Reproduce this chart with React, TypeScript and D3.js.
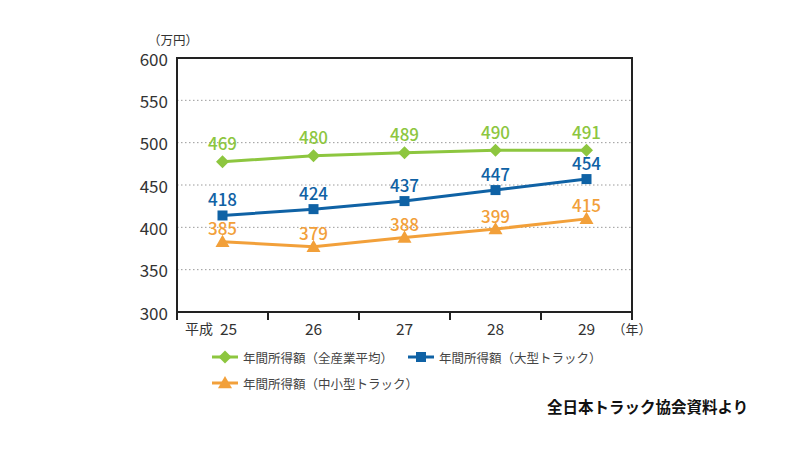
import React from "react";
import * as d3 from "d3";

const years = ["25", "26", "27", "28", "29"];
const yTicks = [300, 350, 400, 450, 500, 550, 600];

// label values as printed
const allIndustryLabels = [469, 480, 489, 490, 491];
const largeTruckLabels = [418, 424, 437, 447, 454];
const smallTruckLabels = [385, 379, 388, 399, 415];

// marker positions as drawn in the source chart (value units)
const allIndustry = [477.5, 484.5, 488, 491, 491];
const largeTruck = [414, 421.5, 431, 444, 457];
const smallTruck = [383, 377, 388, 398, 410];

const seriesNames = [
  "年間所得額（全産業平均）",
  "年間所得額（大型トラック）",
  "年間所得額（中小型トラック）",
];

const GREEN = "#8DC63F";
const BLUE = "#0F62A5";
const ORANGE = "#F2A03A";
const FONT = "'Noto Sans CJK JP', 'Noto Sans', sans-serif";

const W = 800;
const H = 450;
const left = 177;
const right = 632;
const top = 58;
const bottom = 312;

function Marker({ kind, x, y, color }: { kind: string; x: number; y: number; color: string }) {
  if (kind === "diamond") {
    const s = 6.5;
    return <path d={`M${x},${y - s}L${x + s},${y}L${x},${y + s}L${x - s},${y}Z`} fill={color} />;
  }
  if (kind === "square") {
    const s = 5;
    return <rect x={x - s} y={y - s} width={2 * s} height={2 * s} fill={color} />;
  }
  const s = 7;
  return <path d={`M${x},${y - s}L${x + s},${y + s * 0.75}L${x - s},${y + s * 0.75}Z`} fill={color} />;
}

export default function App() {
  const x = d3.scaleBand<string>().domain(years).range([left, right]);
  const y = d3.scaleLinear().domain([300, 600]).range([bottom, top]);
  const cx = (d: string) => (x(d) as number) + x.bandwidth() / 2;
  const line = d3
    .line<number>()
    .x((_, i) => cx(years[i]))
    .y((v) => y(v));

  const series = [
    { name: seriesNames[0], vals: allIndustry, labels: allIndustryLabels, color: GREEN, kind: "diamond", off: -19 },
    { name: seriesNames[1], vals: largeTruck, labels: largeTruckLabels, color: BLUE, kind: "square", off: -17 },
    { name: seriesNames[2], vals: smallTruck, labels: smallTruckLabels, color: ORANGE, kind: "triangle", off: -14 },
  ];

  const boundaries = years.map((d) => x(d) as number).concat([right]);

  return (
    <svg
      width={W}
      height={H}
      style={{ position: "absolute", left: 0, top: 0, background: "#fff" }}
      fontFamily={FONT}
    >
      <rect width={W} height={H} fill="#fff" />
      {/* grid */}
      {yTicks
        .filter((t) => t > 300 && t < 600)
        .map((t) => (
          <line
            key={t}
            x1={left}
            x2={right}
            y1={y(t)}
            y2={y(t)}
            stroke="#9a9a9a"
            strokeWidth={1}
            strokeDasharray="1.5,2.5"
          />
        ))}
      {/* frame */}
      <rect x={left} y={top} width={right - left} height={bottom - top} fill="none" stroke="#222" strokeWidth={2} />
      {boundaries.map((b, i) => (
        <line key={i} x1={b} x2={b} y1={bottom} y2={bottom + 8} stroke="#222" strokeWidth={2} />
      ))}
      {/* y labels */}
      {yTicks.map((t) => (
        <text key={t} x={168} y={y(t)} textAnchor="end" dominantBaseline="central" fontSize={17} fill="#333">
          {t}
        </text>
      ))}
      <text x={173} y={39} textAnchor="middle" dominantBaseline="central" fontSize={12.5} fill="#333">
        （万円）
      </text>
      {/* x labels */}
      {years.map((d) => (
        <text key={d} x={cx(d) + (d === "25" ? 6 : 0)} y={328} textAnchor="middle" dominantBaseline="central" fontSize={15.5} fill="#333">
          {d}
        </text>
      ))}
      <text x={199} y={328} textAnchor="middle" dominantBaseline="central" fontSize={14} fill="#333">
        平成
      </text>
      <text x={632} y={328} textAnchor="middle" dominantBaseline="central" fontSize={13} fill="#333">
        （年）
      </text>
      {/* series */}
      {series.map((s) => (
        <g key={s.name}>
          <path d={line(s.vals) || ""} fill="none" stroke={s.color} strokeWidth={3} />
          {s.vals.map((v, i) => (
            <Marker key={i} kind={s.kind} x={cx(years[i])} y={y(v)} color={s.color} />
          ))}
          {s.vals.map((v, i) => (
            <text
              key={"l" + i}
              x={cx(years[i])}
              y={y(v) + s.off}
              textAnchor="middle"
              dominantBaseline="central"
              fontSize={17}
              fontWeight={500}
              fill={s.color}
            >
              {s.labels[i]}
            </text>
          ))}
        </g>
      ))}
      {/* legend */}
      {[
        { s: series[0], lx: 212, ly: 357 },
        { s: series[1], lx: 408, ly: 357 },
        { s: series[2], lx: 212, ly: 383 },
      ].map(({ s, lx, ly }) => (
        <g key={"lg" + s.name}>
          <line x1={lx} x2={lx + 26} y1={ly} y2={ly} stroke={s.color} strokeWidth={3} />
          <Marker kind={s.kind} x={lx + 13} y={ly} color={s.color} />
          <text x={lx + 31} y={ly} dominantBaseline="central" fontSize={12.5} fill="#444">
            {s.name}
          </text>
        </g>
      ))}
      <text x={547} y={406} dominantBaseline="central" fontSize={15.5} fontWeight={700} fill="#111">
        全日本トラック協会資料より
      </text>
    </svg>
  );
}
